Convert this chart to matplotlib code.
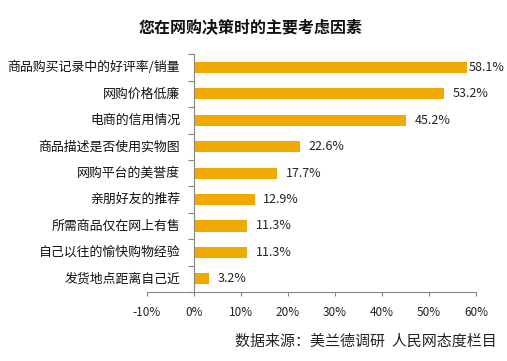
import matplotlib
matplotlib.use("Agg")
from matplotlib import pyplot as plt

plt.rcParams['font.family'] = ['Noto Sans CJK SC', 'DejaVu Sans']

# Data
categories = ['商品购买记录中的好评率/销量', '网购价格低廉', '电商的信用情况', '商品描述是否使用实物图',
              '网购平台的美誉度', '亲朋好友的推荐', '所需商品仅在网上有售', '自己以往的愉快购物经验',
              '发货地点距离自己近']
values = [58.1, 53.2, 45.2, 22.6, 17.7, 12.9, 11.3, 11.3, 3.2]
x_ticks = [-10, 0, 10, 20, 30, 40, 50, 60]

bar_color = '#F0A900'
axis_color = '#868686'

fig = plt.figure(figsize=(5.07, 3.61), dpi=100)
ax = fig.add_axes([0.2899, 0.1911, 0.9389 - 0.2899, 0.8496 - 0.1911])

pos = list(range(len(categories)))
ax.barh(pos, values, height=0.42, color=bar_color, zorder=2)

# Value labels at bar ends
for p, v in zip(pos, values):
    off = 1 if v > 55 else 6
    ax.annotate(f'{v:.1f}%', (v, p), xytext=(off, 0), textcoords='offset points',
                ha='left', va='center', fontsize=9, color='#222222',
                annotation_clip=False)

# category labels, right-aligned just left of the 0% axis
for p, c in zip(pos, categories):
    ax.annotate(c, (0, p), xytext=(-10, 0), textcoords='offset points',
                ha='right', va='center', fontsize=9.3, color='#111111',
                annotation_clip=False)

ax.set_xlim(-10, 60)
ax.set_ylim(len(categories) - 0.5, -0.5)
ax.set_xticks(x_ticks)
ax.set_xticklabels([f'{t}%' for t in x_ticks], fontsize=8.5, color='#222222')

# y ticks sit between categories
ax.set_yticks([p - 0.5 for p in pos] + [len(pos) - 0.5])
ax.set_yticklabels([])
ax.tick_params(axis='y', length=4, color=axis_color)
ax.tick_params(axis='x', length=3, color=axis_color, pad=7)

for s in ['top', 'right']:
    ax.spines[s].set_visible(False)
for s in ['left', 'bottom']:
    ax.spines[s].set_color(axis_color)
ax.spines['left'].set_position(('data', 0))

fig.text(0.495, 0.925, '您在网购决策时的主要考虑因素', ha='center', va='center',
         fontsize=11.5, fontweight='bold', color='#111111')
fig.text(0.980, 0.055, '数据来源：美兰德调研  人民网态度栏目', ha='right', va='center',
         fontsize=10.8, color='#222222')

plt.savefig('out.png', dpi=100)
plt.close(fig)
